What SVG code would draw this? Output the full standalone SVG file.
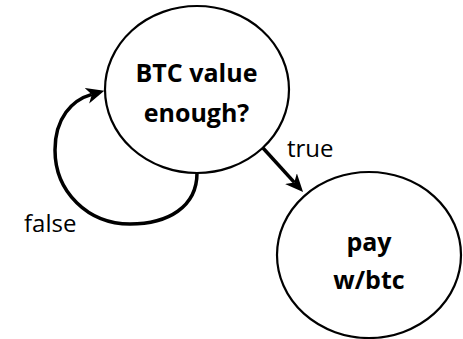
<svg xmlns="http://www.w3.org/2000/svg" width="463" height="339" viewBox="0 0 463 339">
  <style>
    .state { fill: #ffffff; stroke: #000000; stroke-width: 2.2; }
    .name { font-family: "Open Sans", "Liberation Sans", sans-serif; font-weight: 700; font-size: 25px; fill: #000000; text-anchor: middle; }
    .edge { fill: none; stroke: #000000; stroke-width: 3.5; }
    .label { font-family: "Open Sans", "Liberation Sans", sans-serif; font-size: 24px; fill: #000000; }
  </style>
  <defs>
    <!-- barbed arrowhead; reference point sits in the notch -->
    <marker id="arrow" markerUnits="userSpaceOnUse" viewBox="0 -9 20 18" refX="5" refY="0" markerWidth="20" markerHeight="18" orient="auto">
      <path d="M0,-8 L18,0 L0,8 L5,0 Z" fill="#000000"/>
    </marker>
  </defs>

  <g id="connectors">
    <!-- false: self loop back into the check -->
    <path class="edge" d="M197,173 C197,207 168,224 130,224 C88,224 55,192 55,150 C55,118 72,100 91.8,94.4" marker-end="url(#arrow)"/>
    <!-- true: on to payment -->
    <path class="edge" d="M263,148 L294.3,182.4" marker-end="url(#arrow)"/>
    <text class="label" x="287" y="157">true</text>
    <text class="label" x="24" y="231.5">false</text>
  </g>

  <g id="node-check">
    <ellipse class="state" cx="197" cy="89.5" rx="92" ry="83.5"/>
    <text class="name" x="196.5" y="82">BTC value</text>
    <text class="name" x="196.5" y="121.5">enough?</text>
  </g>

  <g id="node-pay">
    <ellipse class="state" cx="369" cy="255" rx="92" ry="83"/>
    <text class="name" x="369" y="251">pay</text>
    <text class="name" x="369" y="289">w/btc</text>
  </g>
</svg>
